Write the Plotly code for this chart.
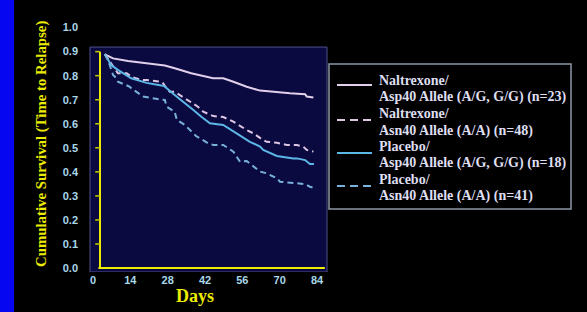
import plotly.graph_objects as go

# ---------------- data ----------------
nal_asp_days = [1.8, 4.9, 10.5, 18.0, 24.3, 28.0, 34.2, 42.4, 46.2, 50.0, 55.0, 60.0, 66.3, 71.2, 76.9, 77.5, 80.0]
nal_asp_surv = [0.889, 0.872, 0.861, 0.851, 0.842, 0.831, 0.810, 0.789, 0.789, 0.775, 0.754, 0.738, 0.731, 0.727, 0.723, 0.713, 0.709]

nal_asn_days = [1.8, 6.7, 10.0, 11.7, 15.5, 17.5, 23.0, 23.7, 24.9, 26.2, 28.0, 31.8, 32.5, 36.7, 38.7, 41.2, 42.5, 46.2, 50.0, 55.0, 57.5, 61.2, 62.5, 66.3, 70.0, 73.8, 76.2, 77.5, 80.0]
nal_asn_surv = [0.890, 0.810, 0.810, 0.796, 0.782, 0.782, 0.775, 0.768, 0.748, 0.733, 0.733, 0.706, 0.699, 0.671, 0.650, 0.636, 0.632, 0.628, 0.609, 0.574, 0.560, 0.532, 0.525, 0.521, 0.512, 0.512, 0.505, 0.491, 0.484]

pla_asp_days = [1.8, 4.2, 6.7, 11.7, 17.5, 24.0, 28.0, 28.8, 33.0, 35.0, 38.0, 41.2, 46.2, 50.0, 51.2, 56.2, 60.0, 61.2, 65.0, 66.3, 72.5, 73.8, 76.9, 78.7, 80.2]
pla_asp_surv = [0.889, 0.844, 0.824, 0.789, 0.770, 0.757, 0.720, 0.713, 0.678, 0.657, 0.629, 0.602, 0.595, 0.567, 0.560, 0.525, 0.505, 0.491, 0.470, 0.466, 0.456, 0.456, 0.449, 0.433, 0.433]

pla_asn_days = [1.8, 3.0, 4.9, 5.6, 6.7, 11.2, 11.7, 16.2, 21.6, 24.3, 25.0, 28.0, 28.8, 31.8, 36.0, 40.5, 42.5, 46.2, 50.0, 51.2, 52.5, 55.0, 57.5, 60.0, 62.5, 66.3, 67.5, 73.8, 76.9, 78.7, 80.6]
pla_asn_surv = [0.889, 0.865, 0.803, 0.796, 0.775, 0.754, 0.748, 0.713, 0.703, 0.699, 0.671, 0.650, 0.616, 0.595, 0.549, 0.519, 0.512, 0.512, 0.484, 0.463, 0.442, 0.445, 0.421, 0.401, 0.394, 0.373, 0.359, 0.352, 0.349, 0.338, 0.332]

x_ticks = [0, 14, 28, 42, 56, 70, 84]
y_ticks = [0.0, 0.1, 0.2, 0.3, 0.4, 0.5, 0.6, 0.7, 0.8, 0.9, 1.0]
y_axis_ticks = [0.1, 0.2, 0.3, 0.4, 0.5, 0.6, 0.7, 0.8, 0.9]

legend_labels = [
    ("Naltrexone/", "Asp40 Allele (A/G, G/G) (n=23)"),
    ("Naltrexone/", "Asn40 Allele (A/A) (n=48)"),
    ("Placebo/", "Asp40 Allele (A/G, G/G) (n=18)"),
    ("Placebo/", "Asn40 Allele (A/A) (n=41)"),
]

# ---------------- styles ----------------
NAL = "#e0d0ea"
NAL_D = "#dcc6e2"
PLA = "#5cb6e6"
PLA_D = "#78b2da"
YEL = "#ecec00"
TICK = "#a8d8ea"
NAVY = "#0a0940"

series = [
    (nal_asp_days, nal_asp_surv, NAL, "solid"),
    (nal_asn_days, nal_asn_surv, NAL_D, "6px,4px"),
    (pla_asp_days, pla_asp_surv, PLA, "solid"),
    (pla_asn_days, pla_asn_surv, PLA_D, "6px,4px"),
]

fig = go.Figure()
for xs, ys, col, dash in series:
    fig.add_trace(go.Scatter(x=xs, y=ys, mode="lines",
                             line=dict(color=col, width=2, dash=dash),
                             showlegend=False, hoverinfo="skip"))

# plot area geometry (pixels)
L, R, T, B = 90, 260, 20, 40
W, H = 587, 312
pw, ph = W - L - R, H - T - B


def px2paper_x(px):
    return (px - L) / pw


def px2paper_y(py):
    return (H - B - py) / ph


shapes = []
# left blue strip
shapes.append(dict(type="rect", xref="paper", yref="paper",
                   x0=px2paper_x(0), x1=px2paper_x(14), y0=px2paper_y(312), y1=px2paper_y(0),
                   fillcolor="#0606f0", line=dict(width=0), layer="below"))
# navy plot panel
shapes.append(dict(type="rect", xref="paper", yref="y",
                   x0=0, x1=1, y0=-0.0166, y1=0.919,
                   fillcolor=NAVY, line=dict(color="#50508a", width=1), layer="below"))
# yellow axes
shapes.append(dict(type="line", xref="x", yref="y", x0=0, x1=0, y0=0, y1=0.9,
                   line=dict(color=YEL, width=2), layer="below"))
shapes.append(dict(type="line", xref="x", yref="y", x0=-0.6, x1=84.3, y0=0, y1=0,
                   line=dict(color=YEL, width=2), layer="below"))
for v in y_axis_ticks:
    shapes.append(dict(type="line", xref="x", yref="y", x0=-1.8, x1=0, y0=v, y1=v,
                       line=dict(color="#c8c800", width=1.5), layer="below"))

# legend box
shapes.append(dict(type="rect", xref="paper", yref="paper",
                   x0=px2paper_x(329), x1=px2paper_x(571), y0=px2paper_y(209), y1=px2paper_y(64),
                   fillcolor="#000000", line=dict(color="#8c98a4", width=1.5)))
legend_line_y = [85, 120, 153, 186]
legend_styles = [(NAL, "solid"), (NAL_D, "8px,5px"), (PLA, "solid"), (PLA_D, "8px,5px")]
for ly, (col, dash) in zip(legend_line_y, legend_styles):
    shapes.append(dict(type="line", xref="paper", yref="paper",
                       x0=px2paper_x(337), x1=px2paper_x(372),
                       y0=px2paper_y(ly), y1=px2paper_y(ly),
                       line=dict(color=col, width=2, dash=dash)))

annotations = []
text_y = [(80.7, 96.7), (113.3, 130.5), (146.3, 163.3), (179.3, 196)]
for (l1, l2), (y1, y2) in zip(legend_labels, text_y):
    for txt, yy in ((l1, y1), (l2, y2)):
        annotations.append(dict(text=txt, xref="paper", yref="paper",
                                x=px2paper_x(377), y=px2paper_y(yy),
                                xanchor="left", yanchor="middle", showarrow=False,
                                font=dict(family="Liberation Serif", size=14, color="#dedef0", weight="bold")))

annotations.append(dict(text="Cumulative Survival (Time to Relapse)", xref="paper", yref="paper",
                        x=px2paper_x(41), y=px2paper_y(144), textangle=-90,
                        xanchor="center", yanchor="middle", showarrow=False,
                        font=dict(family="Liberation Serif", size=14.8, color=YEL, weight="bold")))
annotations.append(dict(text="Days", xref="paper", yref="paper",
                        x=px2paper_x(194.5), y=px2paper_y(296),
                        xanchor="center", yanchor="middle", showarrow=False,
                        font=dict(family="Liberation Serif", size=18, color=YEL, weight="bold")))

fig.update_layout(
    width=W, height=H,
    margin=dict(l=L, r=R, t=T, b=B, pad=0),
    paper_bgcolor="#000000", plot_bgcolor="rgba(0,0,0,0)",
    shapes=shapes, annotations=annotations,
    xaxis=dict(range=[-3.75, 85.1], tickvals=x_ticks, ticktext=[str(v) for v in x_ticks],
               showgrid=False, zeroline=False, showline=False, ticks="",
               ticklabelshift=-7,
               tickfont=dict(family="Liberation Sans", size=11, color=TICK, weight="bold")),
    yaxis=dict(range=[-0.0166, 1.0316], tickvals=y_ticks, ticktext=[f"{v:.1f}" for v in y_ticks],
               showgrid=False, zeroline=False, showline=False, ticks="",
               ticklabelstandoff=11,
               tickfont=dict(family="Liberation Sans", size=11, color=TICK, weight="bold")),
)

fig.write_html("out.html", config={"displayModeBar": False},
               post_script="document.body.style.margin='0';document.body.style.background='#000';")
